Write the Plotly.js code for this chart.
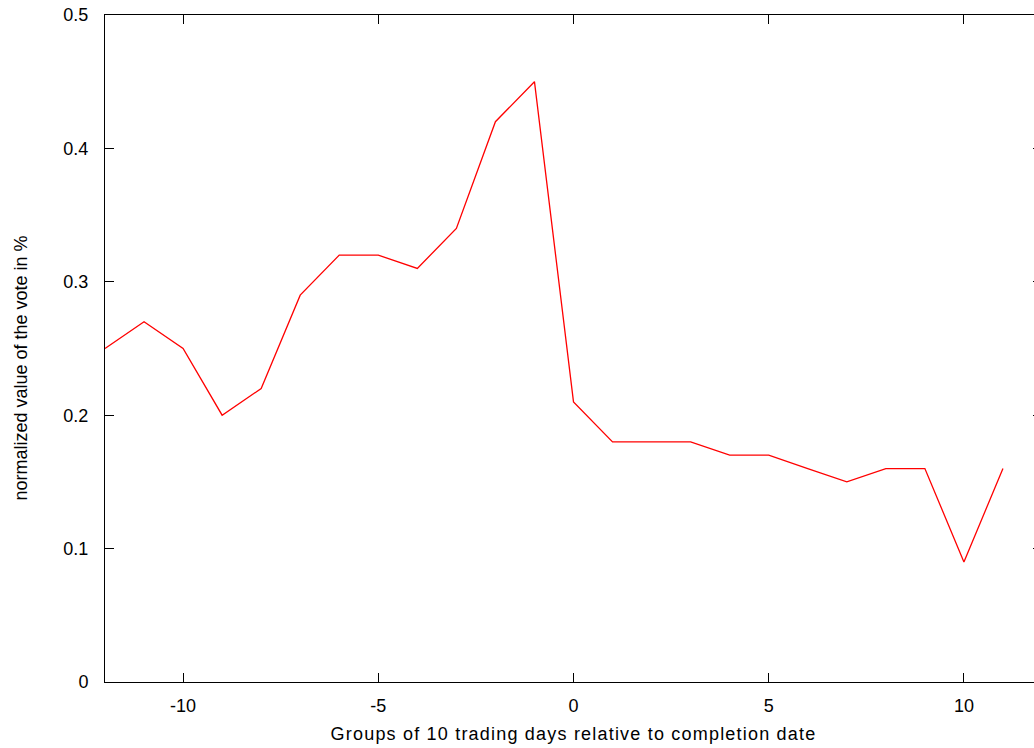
<!DOCTYPE html>
<html>
<head>
<meta charset="utf-8">
<script src="https://cdn.plot.ly/plotly-3.0.1.min.js"></script>
<style>
html, body { margin: 0; padding: 0; overflow: hidden; background: #fff; }
#chart { width: 1060px; height: 748px; }
.xtitle { letter-spacing: 1.2px; }
</style>
</head>
<body>
<div id="chart"></div>
<script>
const groups = [-12, -11, -10, -9, -8, -7, -6, -5, -4, -3, -2, -1, 0, 1, 2, 3, 4, 5, 6, 7, 8, 9, 10, 11];
const voteValue = [0.25, 0.27, 0.25, 0.20, 0.22, 0.29, 0.32, 0.32, 0.31, 0.34, 0.42, 0.45, 0.21, 0.18, 0.18, 0.18, 0.17, 0.17, 0.16, 0.15, 0.16, 0.16, 0.09, 0.16];
const xTicks = [-10, -5, 0, 5, 10];
const yTicks = [0, 0.1, 0.2, 0.3, 0.4, 0.5];
const yTitle = 'normalized value of the vote in %';

const font = { family: 'Liberation Sans, Arial, sans-serif', size: 18, color: '#000' };

Plotly.newPlot('chart', [{
  x: groups,
  y: voteValue,
  type: 'scatter',
  mode: 'lines',
  line: { color: '#ff0000', width: 1.3 },
  hoverinfo: 'skip'
}], {
  width: 1060,
  height: 748,
  margin: { l: 105, r: 18, t: 15, b: 66 },
  paper_bgcolor: '#fff',
  plot_bgcolor: '#fff',
  showlegend: false,
  font: font,
  xaxis: {
    range: [-12, 12],
    tickmode: 'array',
    tickvals: xTicks,
    ticktext: xTicks.map(String),
    ticks: 'inside',
    ticklen: 9,
    tickwidth: 1,
    tickcolor: '#000',
    showline: true,
    linecolor: '#000',
    linewidth: 1,
    mirror: 'ticks',
    showgrid: false,
    zeroline: false,
    tickfont: font,
    ticklabelstandoff: 7,
    title: { text: 'Groups of 10 trading days relative to completion date', font: font, standoff: 12 }
  },
  yaxis: {
    range: [0, 0.5],
    tickmode: 'array',
    tickvals: yTicks,
    ticktext: yTicks.map(v => String(v)),
    ticks: 'inside',
    ticklen: 9,
    tickwidth: 1,
    tickcolor: '#000',
    showline: true,
    linecolor: '#000',
    linewidth: 1,
    mirror: 'ticks',
    showgrid: false,
    zeroline: false,
    tickfont: font,
    ticklabelstandoff: 12
  },
  annotations: [{
    text: yTitle,
    xref: 'paper', yref: 'paper',
    x: -0.0907, y: 0.47,
    xanchor: 'center', yanchor: 'middle',
    textangle: -90,
    showarrow: false,
    font: font
  }]
}, { displayModeBar: false, staticPlot: true });
</script>
</body>
</html>
